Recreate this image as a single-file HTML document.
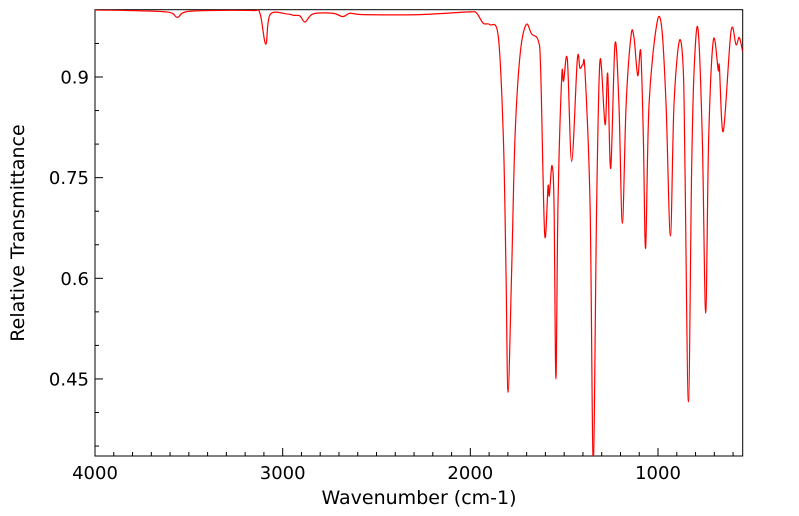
<!DOCTYPE html>
<html><head><meta charset="utf-8">
<style>
html,body{margin:0;padding:0;background:#fff;}
svg{display:block;font-family:"DejaVu Sans","Liberation Sans",sans-serif;}
</style></head>
<body>
<svg id="chart" width="799" height="516" viewBox="0 0 799 516" xmlns="http://www.w3.org/2000/svg">
<defs><clipPath id="plotclip"><rect x="95" y="9.7" width="647.7" height="446.3"/></clipPath></defs>
<rect x="95" y="9.7" width="647.7" height="446.3" fill="#fff" stroke="#000" stroke-width="1"/>
<g id="xticks"></g>
<g id="yticks"></g>
<path id="line" fill="none" stroke="#ff0000" stroke-width="1.2" stroke-linejoin="round" clip-path="url(#plotclip)"/>
<text x="419" y="504" text-anchor="middle" font-size="19">Wavenumber (cm-1)</text>
<text transform="translate(24,233) rotate(-90)" text-anchor="middle" font-size="19">Relative Transmittance</text>
</svg>
<script>
const wavenumbers = [4000,3618,3561,3494,3158,3121,3090,3067,2979,2943,2908,2881,2838,2732,2680,2641,2570,2268,2002,1966,1931,1895,1851,1824,1810,1799,1780,1762,1735,1703,1673,1638,1625,1604,1586,1579,1565,1554,1544,1533,1513,1503,1483,1460,1430,1416,1401,1389,1362,1345,1327,1309,1282,1268,1252,1229,1208,1190,1170,1144,1128,1108,1092,1078,1066,1048,1007,980,957,934,915,886,865,856,838,821,808,787,764,746,730,705,679,673,652,611,584,567,549];
const transmittance = [1.0,0.997,0.989,0.998,0.999,0.995,0.949,0.993,0.994,0.992,0.991,0.982,0.994,0.995,0.99,0.995,0.993,0.993,0.997,0.995,0.98,0.978,0.96,0.809,0.61,0.43,0.61,0.81,0.933,0.978,0.964,0.954,0.908,0.666,0.737,0.723,0.768,0.709,0.45,0.709,0.9,0.894,0.926,0.774,0.926,0.913,0.918,0.908,0.709,0.327,0.709,0.925,0.829,0.905,0.764,0.95,0.858,0.682,0.858,0.961,0.959,0.902,0.938,0.809,0.645,0.858,0.978,0.973,0.858,0.663,0.858,0.954,0.908,0.759,0.416,0.759,0.908,0.972,0.809,0.548,0.809,0.955,0.91,0.915,0.819,0.968,0.948,0.959,0.938];
const xTickLabels = [4000,3000,2000,1000];
const yTickLabels = [0.45,0.6,0.75,0.9];

const L=95,R=742.7,T=9.7,B=456;
const xs = w => L + (4000 - w) * 0.18767;
const ys = v => 77 + (0.9 - v) * 671;
const NS="http://www.w3.org/2000/svg";
const xg=document.getElementById('xticks'), yg=document.getElementById('yticks');
function line(g,x1,y1,x2,y2){const l=document.createElementNS(NS,'line');l.setAttribute('x1',x1);l.setAttribute('y1',y1);l.setAttribute('x2',x2);l.setAttribute('y2',y2);l.setAttribute('stroke','#000');l.setAttribute('stroke-width','1');


g.appendChild(l);}
for(let w=4000;w>=600;w-=100){const x=xs(w);const major=w%1000===0;line(xg,x,B,x,B-(major?8:4));}
xTickLabels.forEach(w=>{const t=document.createElementNS(NS,'text');t.setAttribute('x',xs(w));t.setAttribute('y',B+23);t.setAttribute('text-anchor','middle');t.setAttribute('font-size','18');t.textContent=w;


xg.appendChild(t);});
for(let k=7;k<=19;k++){const v=k*0.05;const y=ys(v);if(y<T||y>B)continue;const major=yTickLabels.some(m=>Math.abs(m-v)<1e-6);line(yg,L,y,L+(major?8:4),y);}
yTickLabels.forEach(v=>{const t=document.createElementNS(NS,'text');t.setAttribute('x',L-6);t.setAttribute('y',ys(v)+6.5);t.setAttribute('text-anchor','end');t.setAttribute('font-size','18');t.textContent=String(v);


yg.appendChild(t);});
// Catmull-Rom smoothing
const P=wavenumbers.map((w,i)=>[xs(w),ys(transmittance[i])]);
let d='M'+P[0][0].toFixed(2)+','+P[0][1].toFixed(2);
const k=0.5/3;
for(let i=0;i<P.length-1;i++){
  const p0=P[Math.max(0,i-1)],p1=P[i],p2=P[i+1],p3=P[Math.min(P.length-1,i+2)];
  let c1x=p1[0]+(p2[0]-p0[0])*k, c1y=p1[1]+(p2[1]-p0[1])*k;
  let c2x=p2[0]-(p3[0]-p1[0])*k, c2y=p2[1]-(p3[1]-p1[1])*k;
  c1x=Math.max(Math.min(c1x,p2[0]),p1[0]); c2x=Math.max(Math.min(c2x,p2[0]),p1[0]);
  d+='C'+c1x.toFixed(2)+','+c1y.toFixed(2)+' '+c2x.toFixed(2)+','+c2y.toFixed(2)+' '+p2[0].toFixed(2)+','+p2[1].toFixed(2);
}
document.getElementById('line').setAttribute('d',d);
</script>
</body></html>
